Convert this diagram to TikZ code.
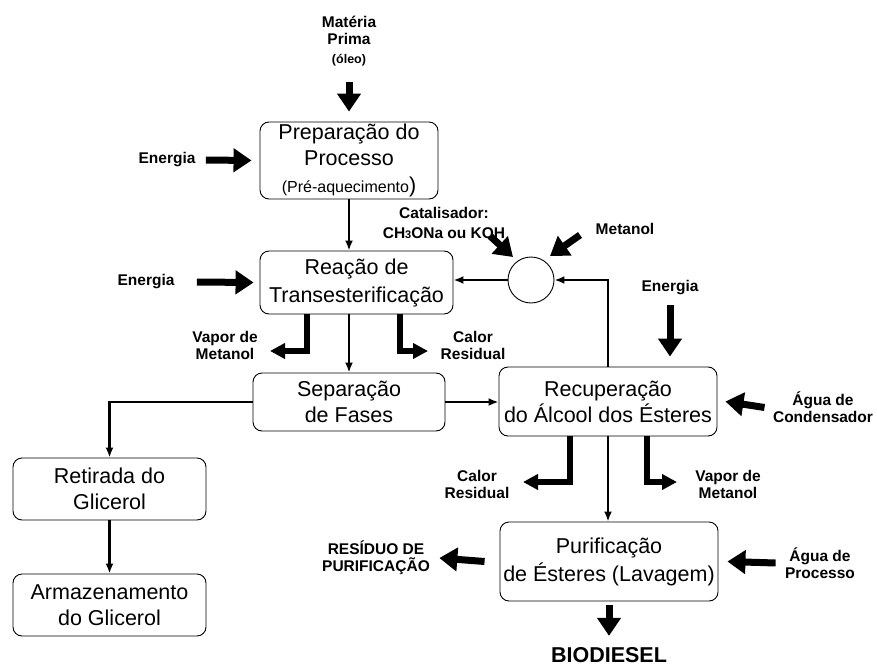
\documentclass[tikz,border=0pt]{standalone}
\usepackage{fontspec}
\setmainfont{Liberation Sans}
\usetikzlibrary{arrows.meta}
\begin{document}
\begin{tikzpicture}[x=1pt,y=-1pt,
	box/.style={draw,rounded corners=9pt,line width=0.9pt,align=center,inner sep=1pt,font=\fontsize{21.5}{26}\selectfont},
	lbl/.style={align=center,font=\bfseries\fontsize{15.5}{17}\selectfont},
	flow/.style={line width=2.2pt,-{Latex[length=10pt,width=8pt]}},
	feed/.style={line width=7pt,-{Triangle[length=18pt,width=23pt]}},
	vent/.style={line width=6pt,-{Triangle[length=15pt,width=15pt]}}]
		\useasboundingbox (0,0) rectangle (877,666);
		\node[box,minimum width=178pt,minimum height=77pt] (prep) at (349,160.5) {Preparação do\\Processo\\[1pt]{\fontsize{16}{19}\selectfont(Pré-aquecimento})};
		\node[box,minimum width=193pt,minimum height=63pt] (reac) at (356.5,282.5) {Reação de\\[2pt]Transesterificação};
		\node[box,minimum width=192pt,minimum height=58pt] (sep) at (349,402) {Separação\\de Fases};
		\node[box,minimum width=218pt,minimum height=69pt] (rec) at (608,401.5) {Recuperação\\do Álcool dos Ésteres};
		\node[box,minimum width=193pt,minimum height=62pt] (ret) at (109.5,489) {Retirada do\\Glicerol};
		\node[box,minimum width=193pt,minimum height=62pt] (arm) at (109.5,605) {Armazenamento\\do Glicerol};
		\node[box,minimum width=218pt,minimum height=79pt] (pur) at (609,561.5) {Purificação\\[2pt]de Ésteres (Lavagem)};
		\node[draw,circle,line width=0.9pt,minimum size=46pt,inner sep=0pt] (mix) at (531,280) {};
		\node[lbl] (oleo) at (349,41) {Matéria\\Prima\\[2pt]{\fontsize{12.5}{15}\selectfont(óleo)}};
		\node[lbl] (en1) at (167,160) {Energia};
		\node[lbl] (en2) at (146,282) {Energia};
		\node[lbl] (en3) at (670,288) {Energia};
		\node[lbl] (cat) at (444,223) {Catalisador:\\[3pt]CH{\fontsize{11}{12}\selectfont 3}ONa ou KOH};
		\node[lbl] (met) at (625,229) {Metanol};
		\node[lbl] (vap1) at (225,345) {Vapor de\\Metanol};
		\node[lbl] (cal1) at (473,345) {Calor\\Residual};
		\node[lbl] (cal2) at (477,484) {Calor\\Residual};
		\node[lbl] (vap2) at (728,484) {Vapor de\\Metanol};
		\node[lbl] (agc) at (823,407.5) {Água de\\Condensador};
		\node[lbl] (agp) at (820,563) {Água de\\Processo};
		\node[lbl] (res) at (376,558) {RESÍDUO DE\\PURIFICAÇÃO};
		\node[lbl,font=\bfseries\fontsize{21.5}{23}\selectfont] (bio) at (609,655) {BIODIESEL};
		\coordinate (cattail) at (490,236);
		\coordinate (cattip) at (513,257);
		\coordinate (mettail) at (580,235);
		\coordinate (mettip) at (550,256);
		\coordinate (vap1tip) at (270,351);
		\coordinate (cal1tip) at (428,351);
		\coordinate (cal2tip) at (523,482);
		\coordinate (vap2tip) at (677,482);
		\draw[flow] (prep.south) -- (prep.south |- reac.north);
		\draw[flow] (sep.north |- reac.south) -- (sep.north);
		\draw[flow] (mix.west) -- (mix.west -| reac.east);
		\draw[flow] (rec.north) |- (mix.east);
		\draw[flow] (sep.east) -- (sep.east -| rec.west);
		\draw[flow] (sep.west) -| (ret.north);
		\draw[flow] (ret.south) -- (arm.north);
		\draw[flow] (rec.south) -- (rec.south |- pur.north);
		\draw[feed] ([yshift=-12pt]oleo.south) -- ([yshift=10pt]prep.north);
		\draw[feed] ([xshift=7pt]en1.east) -- ([xshift=-8pt]prep.west);
		\draw[feed] ([xshift=19pt]en2.east) -- ([xshift=-6pt]reac.west);
		\draw[feed] ([yshift=-6pt]en3.south) -- ([yshift=10pt]en3.south |- rec.north);
		\draw[feed] (cattail) -- (cattip);
		\draw[feed] (mettail) -- (mettip);
		\draw[feed] ([xshift=-5pt]agc.west) -- ([xshift=8pt]rec.east);
		\draw[feed] ([xshift=-6pt]agp.west) -- ([xshift=9pt]pur.east);
		\draw[feed] ([xshift=-15pt]pur.west) -- ([xshift=6pt]res.east);
		\draw[feed] ([yshift=-4pt]pur.south) -- ([yshift=8pt]bio.north);
		\draw[vent] ([xshift=-49.5pt]reac.south) |- (vap1tip);
		\draw[vent] ([xshift=43.5pt]reac.south) |- (cal1tip);
		\draw[vent] ([xshift=-38pt]rec.south) |- (cal2tip);
		\draw[vent] ([xshift=39pt]rec.south) |- (vap2tip);
	\end{tikzpicture}
\end{document}
